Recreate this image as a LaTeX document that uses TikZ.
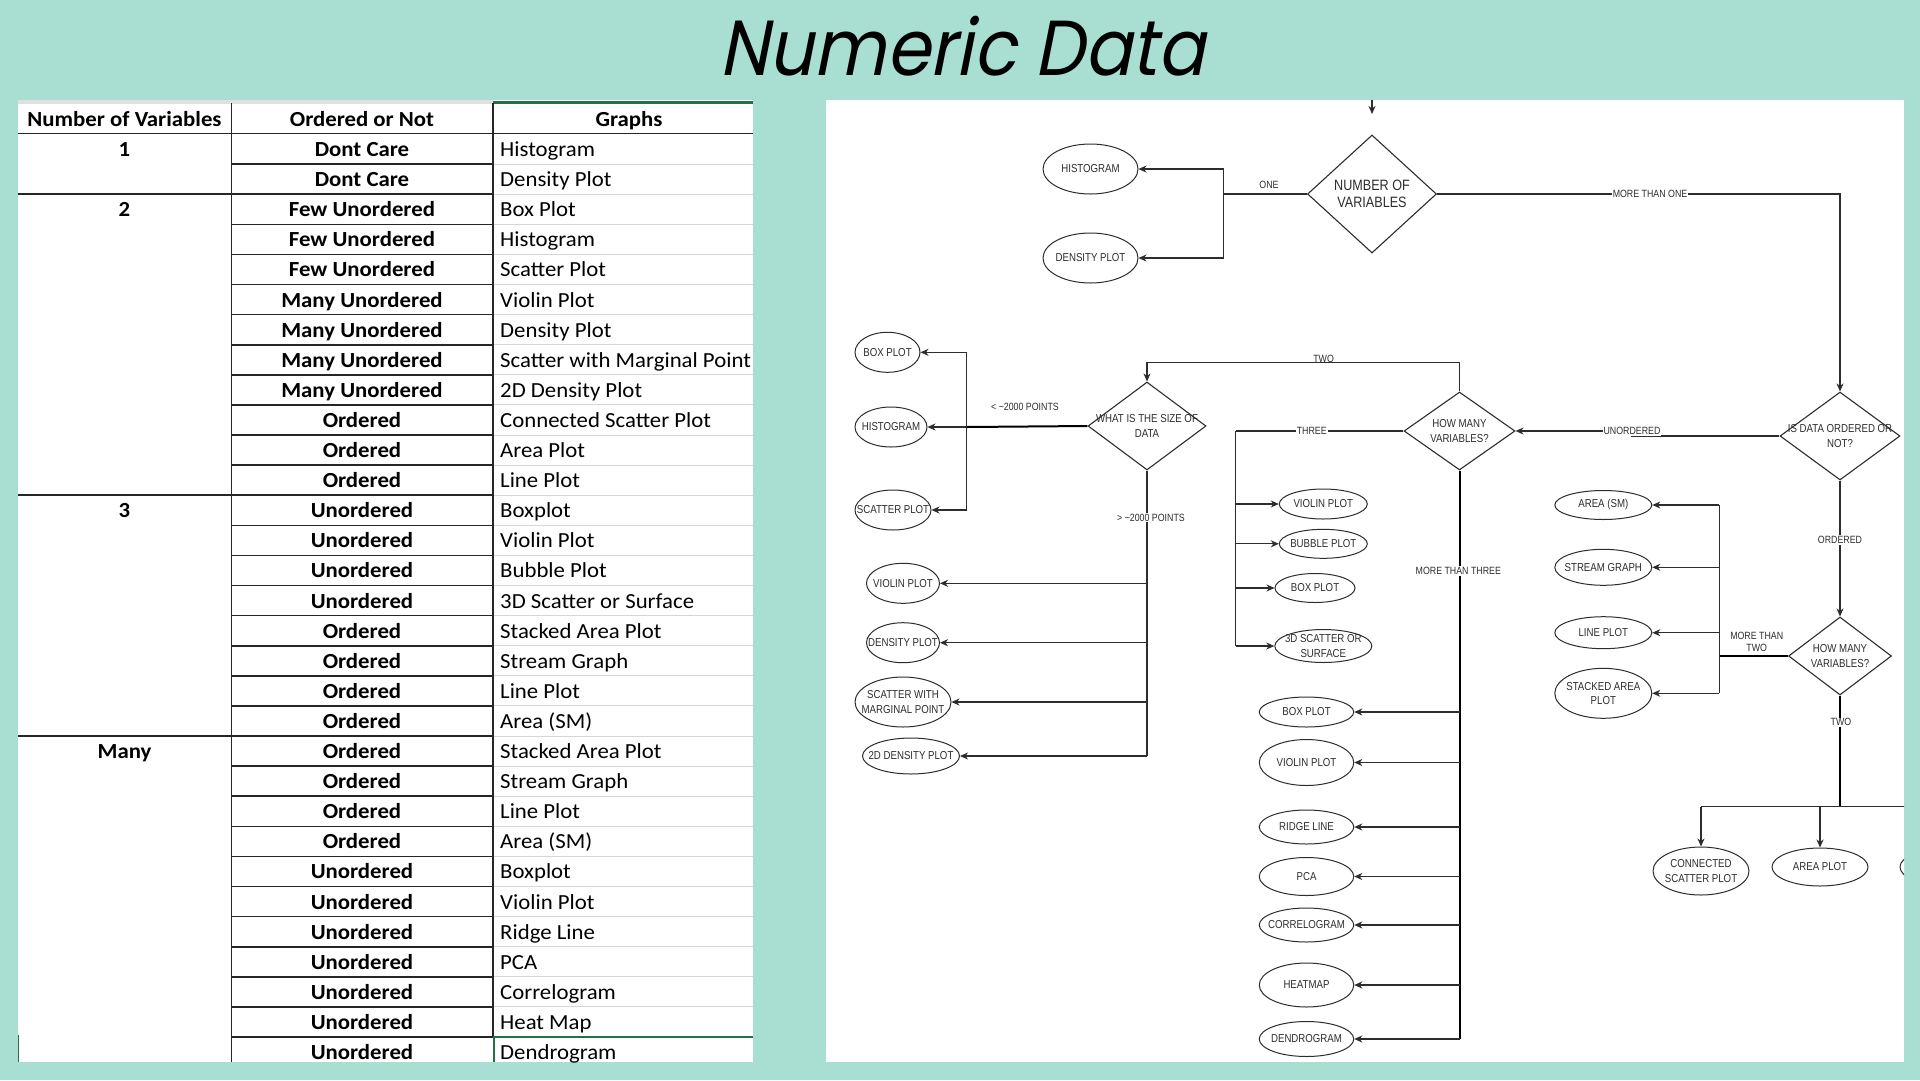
\documentclass[tikz,border=0pt]{standalone}
\usepackage{fontspec}
\usetikzlibrary{shapes.geometric,arrows.meta,calc}
\newfontfamily\tabfont{Carlito}[FakeStretch=1.06]
\newfontfamily\flfont{Liberation Sans}[FakeStretch=0.84]
\newfontfamily\ttlfont{Poppins}[FakeStretch=0.9, FakeSlant=0.2]
\definecolor{mint}{RGB}{168,223,210}
\definecolor{xlgreen}{RGB}{33,115,70}
\definecolor{gridc}{RGB}{214,214,214}
\definecolor{ink}{RGB}{45,45,45}
\begin{document}
\begin{tikzpicture}[x=1pt,y=-1pt,
  ln/.style={draw=ink, line width=1.1pt},
  thk/.style={draw=black, line width=2pt},
  arr/.style={ln, -{Stealth[length=8pt,width=7pt,inset=2.5pt]}},
  ell/.style={ellipse, draw=ink, line width=1pt, fill=white, inner sep=0pt},
  dia/.style={diamond, draw=ink, line width=1.1pt, fill=white, inner sep=0pt},
  et/.style={font=\flfont\fontsize{11.5}{14.5}\selectfont, text=ink, align=center, inner sep=0pt},
  bigt/.style={font=\flfont\fontsize{15}{17.5}\selectfont, text=ink, align=center, inner sep=0pt},
  elbl/.style={font=\flfont\fontsize{10.5}{12.5}\selectfont, text=ink, align=center, fill=white, inner sep=1pt},
  tbold/.style={font=\tabfont\bfseries\fontsize{21.5}{24}\selectfont, anchor=base, inner sep=0pt},
  treg/.style={font=\tabfont\fontsize{21.5}{24}\selectfont, anchor=base west, inner sep=0pt},
  dark/.style={draw=black!85, line width=1.6pt},
  gridl/.style={draw=gridc, line width=1pt}
]
\useasboundingbox (0,0) rectangle (1920,1080);
\fill[mint] (0,0) rectangle (1920,1080);

% ---------- title ----------
\node[font=\ttlfont\fontsize{78}{80}\selectfont, anchor=base, inner sep=0pt] (title) at (962,75) {Numeric Data};

% ---------- table ----------
\begin{scope}
\clip (18,100) rectangle (753,1062);
\fill[white] (18,100) rectangle (753,1062);
\fill[black!12] (18,100) rectangle (493,103.5);
\draw[xlgreen, line width=2.6pt] (493,102.3) -- (753,102.3);
% grid lines in column 3
\foreach \k in {1,...,29} {
  \pgfmathsetmacro\yy{134+\k*30.1}
  \draw[gridl] (493,\yy) -- (753,\yy);
}
\draw[xlgreen, line width=1.6pt] (493,1037) -- (753,1037);
\draw[xlgreen, line width=1.6pt] (494,1037) -- (494,1062);
\draw[xlgreen, line width=1.2pt] (18.6,1035) -- (18.6,1062);
% column 2 row lines
\foreach \k in {1,...,30} {
  \pgfmathsetmacro\yy{134+\k*30.1}
  \draw[dark] (231.5,\yy) -- (493,\yy);
}
% group lines in column 1
\foreach \k in {2,12,20} {
  \pgfmathsetmacro\yy{134+\k*30.1}
  \draw[dark] (18,\yy) -- (231.5,\yy);
}
\draw[dark] (18,133.5) -- (753,133.5);
\draw[dark] (231.5,103) -- (231.5,1062);
\draw[dark] (493,103) -- (493,1036);
% header
\node[tbold] (h1) at (124.5,126) {Number of Variables};
\node[tbold] (h2) at (362,126) {Ordered or Not};
\node[tbold] (h3) at (629,126) {Graphs};
% group labels
\node[tbold] (g1) at (124.5,156.6) {1};
\node[tbold] (g2) at (124.5,216.8) {2};
\node[tbold] (g3) at (124.5,517.8) {3};
\node[tbold] (g4) at (124.5,758.6) {Many};
\foreach \k/\b/\c in {1/Dont Care/Histogram, 2/Dont Care/Density Plot,
  3/Few Unordered/Box Plot, 4/Few Unordered/Histogram, 5/Few Unordered/Scatter Plot,
  6/Many Unordered/Violin Plot, 7/Many Unordered/Density Plot,
  8/Many Unordered/Scatter with Marginal Point, 9/Many Unordered/2D Density Plot,
  10/Ordered/Connected Scatter Plot, 11/Ordered/Area Plot, 12/Ordered/Line Plot,
  13/Unordered/Boxplot, 14/Unordered/Violin Plot, 15/Unordered/Bubble Plot,
  16/Unordered/3D Scatter or Surface, 17/Ordered/Stacked Area Plot,
  18/Ordered/Stream Graph, 19/Ordered/Line Plot, 20/Ordered/Area (SM),
  21/Ordered/Stacked Area Plot, 22/Ordered/Stream Graph, 23/Ordered/Line Plot,
  24/Ordered/Area (SM), 25/Unordered/Boxplot, 26/Unordered/Violin Plot,
  27/Unordered/Ridge Line, 28/Unordered/PCA, 29/Unordered/Correlogram,
  30/Unordered/Heat Map, 31/Unordered/Dendrogram} {
  \pgfmathsetmacro\yy{134+(\k-0.5)*30.1+7.5}
  \node[tbold] (b\k) at (362,\yy) {\b};
  \node[treg] (c\k) at (500,\yy) {\c};
}
\end{scope}

% ---------- flowchart panel ----------
\fill[white] (826,100) rectangle (1904,1062);

% decisions
\node[dia, minimum width=129, minimum height=118, label={[bigt]center:NUMBER OF\\VARIABLES}] (nv) at (1372,194) {};
\node[dia, minimum width=118, minimum height=88, label={[et]center:WHAT IS THE SIZE OF\\DATA}] (size) at (1147,426) {};
\node[dia, minimum width=111, minimum height=78, label={[et]center:HOW MANY\\VARIABLES?}] (hm1) at (1459.5,431) {};
\node[dia, minimum width=120, minimum height=88, label={[et]center:IS DATA ORDERED OR\\NOT?}] (isd) at (1840,436) {};
\node[dia, minimum width=103, minimum height=78, label={[et]center:HOW MANY\\VARIABLES?}] (hm2) at (1840,656) {};

% one variable
\node[ell, minimum width=95, minimum height=50, label={[et]center:HISTOGRAM}] (hist1) at (1090.5,169) {};
\node[ell, minimum width=95, minimum height=50, label={[et]center:DENSITY PLOT}] (dens1) at (1090.5,258) {};

% two, small
\node[ell, minimum width=65, minimum height=40, label={[et]center:BOX PLOT}] (box2) at (887.5,352.3) {};
\node[ell, minimum width=72, minimum height=40, label={[et]center:HISTOGRAM}] (histo2) at (891,427) {};
\node[ell, minimum width=76, minimum height=40, label={[et]center:SCATTER PLOT}] (scat2) at (893,510) {};
% two, large
\node[ell, minimum width=73, minimum height=40, label={[et]center:VIOLIN PLOT}] (vio2) at (903,583.3) {};
\node[ell, minimum width=73, minimum height=40, label={[et]center:DENSITY PLOT}] (den2) at (903,642.7) {};
\node[ell, minimum width=96, minimum height=50, label={[et]center:SCATTER WITH\\MARGINAL POINT}] (swm2) at (903,702) {};
\node[ell, minimum width=97, minimum height=36, label={[et]center:2D DENSITY PLOT}] (dd2) at (911,756) {};

% three
\node[ell, minimum width=88, minimum height=30, label={[et]center:VIOLIN PLOT}] (vio3) at (1323.3,504) {};
\node[ell, minimum width=88, minimum height=29, label={[et]center:BUBBLE PLOT}] (bub3) at (1323.3,543.8) {};
\node[ell, minimum width=80, minimum height=29, label={[et]center:BOX PLOT}] (box3) at (1315,588) {};
\node[ell, minimum width=97, minimum height=33, label={[et]center:3D SCATTER OR\\SURFACE}] (sc3) at (1323.3,646) {};

% more than three
\node[ell, minimum width=94.5, minimum height=30, label={[et]center:BOX PLOT}] (box4) at (1306.5,712) {};
\node[ell, minimum width=94.5, minimum height=46, label={[et]center:VIOLIN PLOT}] (vio4) at (1306.5,762.5) {};
\node[ell, minimum width=94.5, minimum height=34, label={[et]center:RIDGE LINE}] (rid4) at (1306.5,827) {};
\node[ell, minimum width=94.5, minimum height=38, label={[et]center:PCA}] (pca4) at (1306.5,876.5) {};
\node[ell, minimum width=94.5, minimum height=34, label={[et]center:CORRELOGRAM}] (cor4) at (1306.5,925) {};
\node[ell, minimum width=94.5, minimum height=44, label={[et]center:HEATMAP}] (hea4) at (1306.5,985) {};
\node[ell, minimum width=94.5, minimum height=35, label={[et]center:DENDROGRAM}] (den4) at (1306.5,1039) {};

% ordered, more than two
\node[ell, minimum width=97, minimum height=29, label={[et]center:AREA (SM)}] (area5) at (1603.3,505) {};
\node[ell, minimum width=97, minimum height=36, label={[et]center:STREAM GRAPH}] (str5) at (1603.3,567.3) {};
\node[ell, minimum width=97, minimum height=32, label={[et]center:LINE PLOT}] (line5) at (1603.3,632.7) {};
\node[ell, minimum width=97, minimum height=50, label={[et]center:STACKED AREA\\PLOT}] (stk5) at (1603.3,693.3) {};

% ordered, two
\node[ell, minimum width=96, minimum height=48, label={[et]center:CONNECTED\\SCATTER PLOT}] (cs6) at (1701,871) {};
\node[ell, minimum width=96, minimum height=38, label={[et]center:AREA PLOT}] (ap6) at (1820,867) {};

% ---------- connectors ----------
\coordinate (topin) at (1372,100);
\coordinate (topend) at (1372,114);
\draw[arr] (topin) -- (topend);

% one
\coordinate (j1) at (1223.6,194);
\draw[ln] (nv.west) -- (j1);
\draw[arr] (j1) |- (hist1.east);
\draw[arr] (j1) |- (dens1.east);
\node[elbl, fill=none] (lone) at (1269,185) {ONE};

% more than one
\coordinate (m1) at (1840,194);
\draw[arr] (nv.east) -- (m1) -- (isd.north);
\node[elbl] (lmto) at (1650,194) {MORE THAN ONE};

% unordered
\coordinate (u1) at (1632,436);
\coordinate (u2) at (1632,431);
\draw[arr] (isd.west) -- (u1) -- (u2) -- (hm1.east);
\node[elbl] (lunord) at (1632,431) {UNORDERED};

% two (unordered)
\coordinate (t1) at (1459.5,362.3);
\coordinate (t2) at (1147,362.3);
\draw[arr] (hm1.north) -- (t1) -- (t2) -- (size.north);
\node[elbl, fill=none] (ltwo) at (1323.6,358.5) {TWO};

% small data
\coordinate (j2) at (966.7,427);
\draw[thk] (size.west) -- (j2);
\draw[arr] (j2) -- (histo2.east);
\draw[arr] (j2) |- (box2.east);
\draw[arr] (j2) |- (scat2.east);
\node[elbl, fill=none] (lsmall) at (1025,406.7) {< \textasciitilde2000 POINTS};

% large data
\coordinate (j3) at (1147,756);
\draw[ln, line width=1.4pt] (size.south) -- (j3);
\draw[arr] (size.south |- vio2.east) -- (vio2.east);
\draw[arr] (size.south |- den2.east) -- (den2.east);
\draw[arr] (size.south |- swm2.east) -- (swm2.east);
\draw[arr] (j3) -- (dd2.east);
\node[elbl] (llarge) at (1151,517.7) {> \textasciitilde2000 POINTS};

% three
\coordinate (j4) at (1235.5,431);
\draw[ln, line width=1.5pt] (hm1.west) -- (j4);
\draw[ln] (j4) -- (j4 |- sc3.west);
\draw[arr] (j4 |- vio3.west) -- (vio3.west);
\draw[arr] (j4 |- bub3.west) -- (bub3.west);
\draw[arr] (j4 |- box3.west) -- (box3.west);
\draw[arr] (j4 |- sc3.west) -- (sc3.west);
\node[elbl] (lthree) at (1311.7,431) {THREE};

% more than three
\draw[thk] (hm1.south) -- (hm1.south |- den4.east);
\draw[arr] (hm1.south |- box4.east) -- (box4.east);
\draw[arr] (hm1.south |- vio4.east) -- (vio4.east);
\draw[arr] (hm1.south |- rid4.east) -- (rid4.east);
\draw[arr] (hm1.south |- pca4.east) -- (pca4.east);
\draw[arr] (hm1.south |- cor4.east) -- (cor4.east);
\draw[arr] (hm1.south |- hea4.east) -- (hea4.east);
\draw[arr] (hm1.south |- den4.east) -- (den4.east);
\node[elbl] (lmt3) at (1458.3,571) {MORE THAN THREE};

% ordered
\draw[arr] (isd.south) -- (hm2.north);
\node[elbl] (lord) at (1840,540) {ORDERED};

% more than two
\coordinate (j5) at (1719.3,656);
\draw[thk] (hm2.west) -- (j5);
\draw[ln] (j5 |- area5.east) -- (j5 |- stk5.east);
\draw[arr] (j5 |- area5.east) -- (area5.east);
\draw[arr] (j5 |- str5.east) -- (str5.east);
\draw[arr] (j5 |- line5.east) -- (line5.east);
\draw[arr] (j5 |- stk5.east) -- (stk5.east);
\node[elbl, fill=none] (lmt2) at (1756.7,642) {MORE THAN\\TWO};

% two (ordered)
\coordinate (j6) at (1840,806.7);
\draw[thk] (hm2.south) -- (j6);
\node[elbl] (ltwo2) at (1841,722.3) {TWO};
\begin{scope}
\clip (826,100) rectangle (1904,1062);
\node[ell, minimum width=96, minimum height=38] (ghost) at (1948,867) {};
\coordinate (rend) at (1960,806.7);
\draw[ln, line width=1.4pt] (cs6.north |- j6) -- (rend);
\draw[arr] (cs6.north |- j6) -- (cs6.north);
\draw[arr] (ap6.north |- j6) -- (ap6.north);
\draw[arr] (ghost.north |- j6) -- (ghost.north);
\end{scope}
\end{tikzpicture}
\end{document}
